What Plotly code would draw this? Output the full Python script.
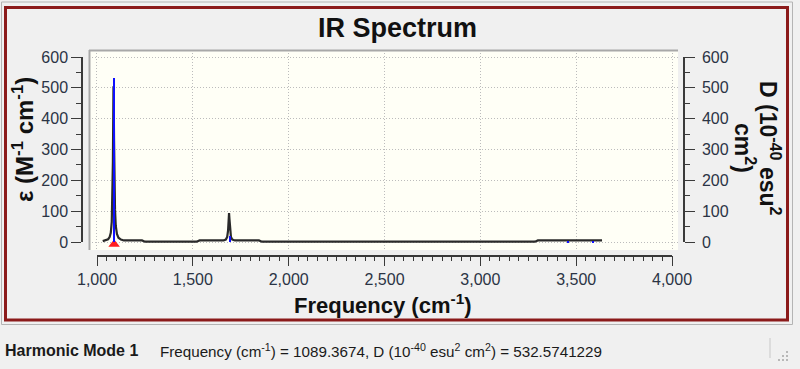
import plotly.graph_objects as go

# ---------------- data ----------------
# broadened IR spectrum (epsilon)
curve_freq = [1030, 1045, 1058, 1066, 1072, 1077, 1080, 1083, 1085, 1086, 1087, 1089,
              1091, 1094, 1098, 1104, 1112, 1125, 1140, 1235, 1250, 1520, 1535, 1660,
              1672, 1679, 1684, 1687, 1689, 1691, 1694, 1699, 1706, 1720, 1845, 1860,
              3285, 3300, 3635]
curve_eps = [3, 5, 9, 16, 30, 65, 130, 260, 420, 505, 470, 330,
             200, 105, 52, 26, 14, 8, 5, 5, 1, 1, 5, 5,
             8, 16, 38, 75, 94, 75, 38, 16, 8, 5, 5, 1,
             1, 5, 5]

# stick spectrum (dipole strength D)
stick_freq = [1089.3674, 1693, 3457, 3588]
stick_D = [532.5741229, 18, 2, 2]

# selected mode
sel_mode = 1
sel_freq = 1089.3674
sel_D = 532.5741229

x_ticks = [1000, 1500, 2000, 2500, 3000, 3500, 4000]
y_ticks = [0, 100, 200, 300, 400, 500, 600]

W, H = 800, 369


def fx(px):
    return px / W


def fy(py):
    return 1 - py / H


FONT = "Liberation Sans"
AXC = "#3a3a3a"
TICKC = "#2b3445"

fig = go.Figure()
fig.add_trace(go.Scatter(x=curve_freq, y=curve_eps, mode="lines",
                         line=dict(color="#2a2a2a", width=2.2), hoverinfo="skip"))
fig.add_trace(go.Scatter(x=[sel_freq], y=[-7], mode="markers",
                         marker=dict(symbol="triangle-up", size=10, color="#ff1f1f",
                                     line=dict(width=0)), hoverinfo="skip"))
fig.add_trace(go.Bar(x=stick_freq, y=stick_D, width=7, yaxis="y2",
                     marker=dict(color="#1010ff", line=dict(width=0)), hoverinfo="skip"))
# invisible carriers so that the framed (visible) axes are drawn
for ya in ["y3", "y4"]:
    fig.add_trace(go.Scatter(x=[x_ticks[0]], y=[y_ticks[0]], xaxis="x3", yaxis=ya,
                             mode="markers", marker=dict(size=1, opacity=0),
                             hoverinfo="skip"))

grid = dict(showgrid=True, gridcolor="#bcbcbc", gridwidth=1, griddash="1px,2px",
            showticklabels=False, ticks="", showline=False, zeroline=False,
            automargin=False)

vis = dict(showline=True, linecolor=AXC, linewidth=1.5, ticks="outside", ticklen=10,
           tickwidth=1.2, tickcolor=AXC, showgrid=False, zeroline=False, automargin=False,
           tickfont=dict(family=FONT, size=16, color=TICKC),
           minor=dict(dtick=50, ticks="outside", ticklen=5, tickwidth=1.2,
                      tickcolor=AXC, showgrid=False))

fig.update_layout(
    width=W, height=H, margin=dict(l=0, r=0, t=0, b=0, pad=0, autoexpand=False),
    paper_bgcolor="#f0f0f0", plot_bgcolor="rgba(0,0,0,0)", showlegend=False,
    font=dict(family=FONT), bargap=0,
    xaxis=dict(domain=[fx(89), fx(678)], range=[958.3, 4031.3], tickvals=x_ticks, **grid),
    yaxis=dict(domain=[fy(250), fy(50)], range=[-25.9, 622.7], tickvals=y_ticks, **grid),
    yaxis2=dict(overlaying="y", range=[-25.9, 622.7], visible=False, automargin=False),
    xaxis3=dict(domain=[fx(97), fx(672)], range=[x_ticks[0], x_ticks[-1]], anchor="free",
                position=fy(255.5), tickvals=x_ticks, tickformat=",", **vis),
    yaxis3=dict(domain=[fy(242), fy(57)], range=[y_ticks[0], y_ticks[-1]], anchor="free",
                position=fx(82), side="left", tickvals=y_ticks, **vis),
    yaxis4=dict(domain=[fy(242), fy(57)], range=[y_ticks[0], y_ticks[-1]], anchor="free",
                position=fx(684), side="right", tickvals=y_ticks, ticklabelstandoff=4, **vis),
)

shapes = [
    # plot area background
    dict(type="rect", xref="paper", yref="paper", x0=fx(89), x1=fx(678), y0=fy(250), y1=fy(50),
         fillcolor="#fffff6", line=dict(width=0), layer="below"),
    # sunken border of plot area
    dict(type="line", xref="paper", yref="paper", x0=fx(89), x1=fx(678), y0=fy(50.5), y1=fy(50.5),
         line=dict(color="#a8a8a8", width=2)),
    dict(type="line", xref="paper", yref="paper", x0=fx(89.5), x1=fx(89.5), y0=fy(250), y1=fy(50),
         line=dict(color="#a8a8a8", width=2)),
    # outer frames
    dict(type="rect", xref="paper", yref="paper", x0=fx(1.5), x1=fx(792.5), y0=fy(324.5), y1=fy(2),
         line=dict(color="#b4b4b4", width=1)),
    dict(type="rect", xref="paper", yref="paper", x0=fx(5.5), x1=fx(787.5), y0=fy(320), y1=fy(7.5),
         line=dict(color="#8b1a1a", width=3)),
    # status bar separator
    dict(type="line", xref="paper", yref="paper", x0=fx(770), x1=fx(770), y0=fy(358), y1=fy(338),
         line=dict(color="#c8c8c8", width=1)),
]
for gx, gy in [(787, 352), (783, 356), (787, 356), (779, 360), (783, 360), (787, 360)]:
    shapes.append(dict(type="rect", xref="paper", yref="paper", x0=fx(gx - 1), x1=fx(gx + 1),
                       y0=fy(gy + 1), y1=fy(gy - 1), fillcolor="#b8b8b8", line=dict(width=0)))
fig.update_layout(shapes=shapes)

ann = [
    dict(text="<b>IR Spectrum</b>", x=fx(397), y=fy(27.5), font=dict(size=27, color="#111111")),
    dict(text="<b>Frequency (cm<sup>-1</sup>)</b>", x=fx(383), y=fy(304),
         font=dict(size=22, color="#111111")),
    dict(text="<b>ε (M<sup>-1</sup> cm<sup>-1</sup>)</b>", x=fx(23), y=fy(140), textangle=-90,
         font=dict(size=24, color="#111111")),
    dict(text="<b>D (10<sup>-40</sup> esu<sup>2</sup></b>", x=fx(770), y=fy(148), textangle=90,
         font=dict(size=23, color="#111111")),
    dict(text="<b>cm<sup>2</sup>)</b>", x=fx(745), y=fy(148), textangle=90,
         font=dict(size=23, color="#111111")),
    dict(text="<b>Harmonic Mode %d</b>" % sel_mode, x=fx(3), y=fy(350), xanchor="left",
         font=dict(size=16, color="#1a1a1a")),
    dict(text="Frequency (cm<sup>-1</sup>) = %.4f, D (10<sup>-40</sup> esu<sup>2</sup> cm<sup>2</sup>) = %.7f"
              % (sel_freq, sel_D), x=fx(158), y=fy(350), xanchor="left",
         font=dict(size=15.2, color="#1a1a1a")),
]
for a in ann:
    a.setdefault("xanchor", "center")
    a.update(xref="paper", yref="paper", yanchor="middle", showarrow=False)
fig.update_layout(annotations=ann)

fig.write_html("out.html")
